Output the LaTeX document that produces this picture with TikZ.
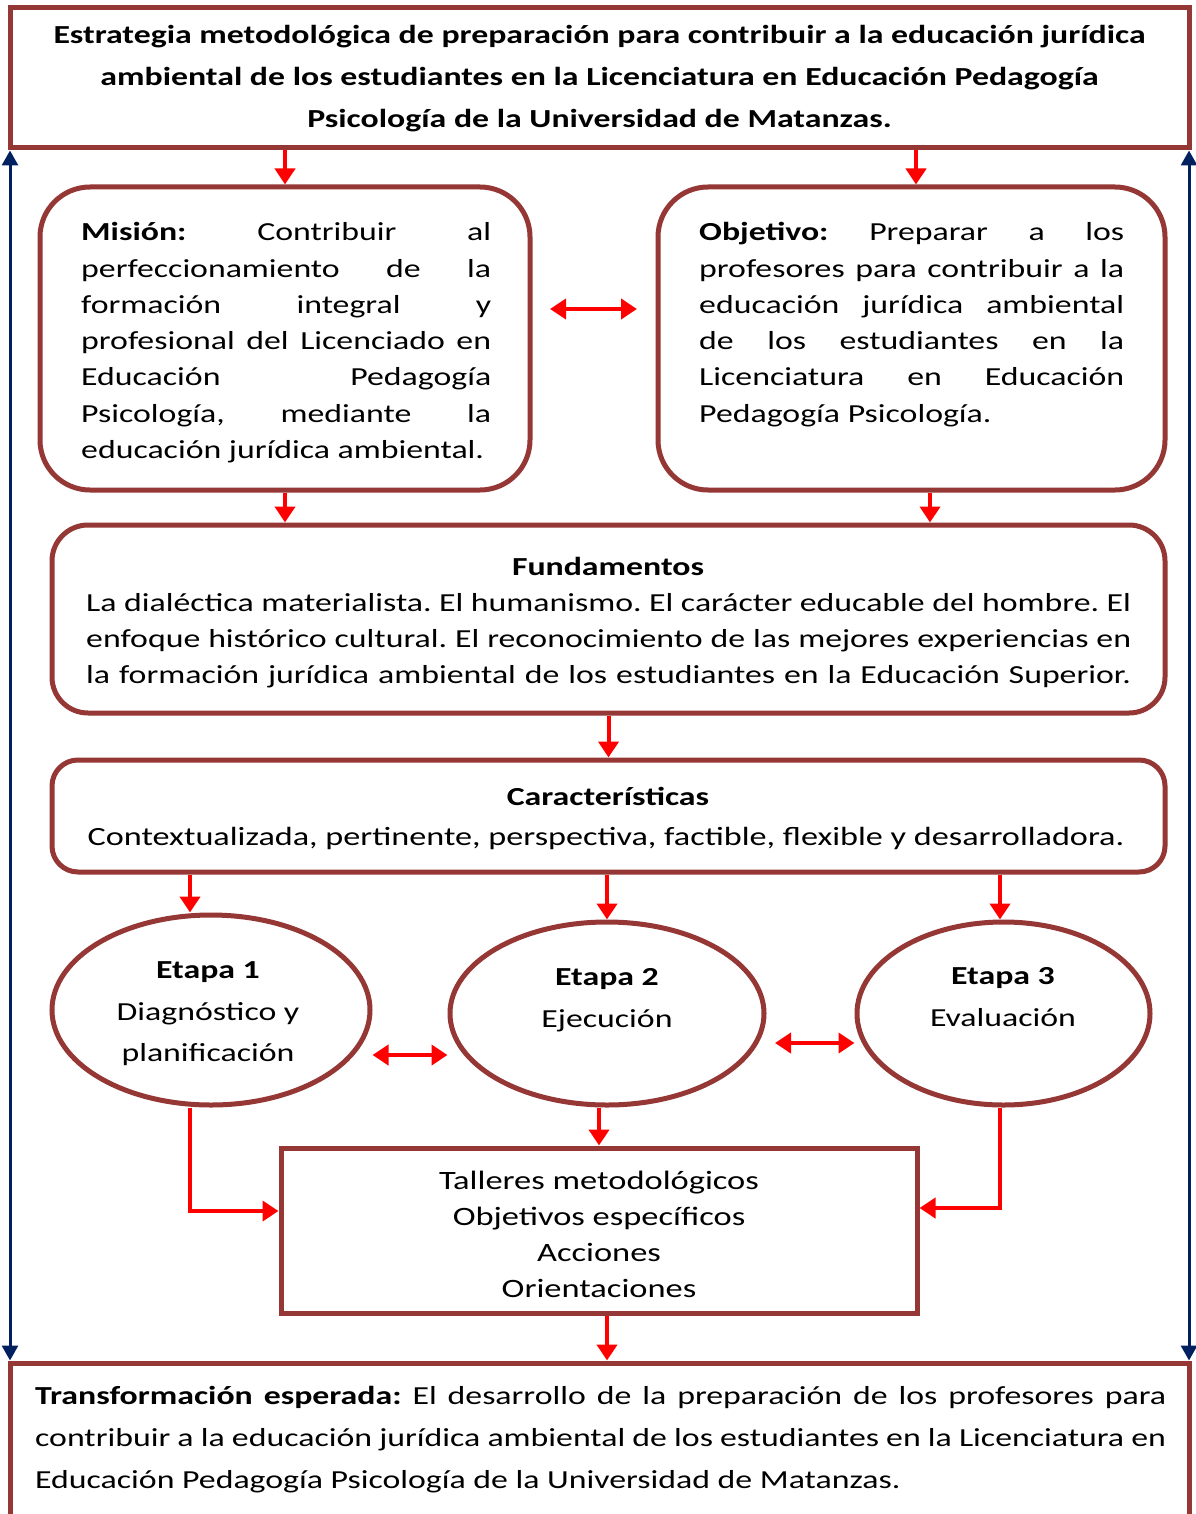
\documentclass[tikz,border=0pt]{standalone}
\usepackage{fontspec}
\setmainfont{Carlito}[FakeStretch=1.3]
\usetikzlibrary{arrows.meta,shapes.geometric}
\definecolor{boxred}{HTML}{953735}
\definecolor{arrred}{HTML}{FF0000}
\definecolor{navyb}{HTML}{002060}
\newcommand{\jl}[1]{\hbox to\linewidth{#1}}
\newcommand{\bodyfont}{\fontsize{26}{36.2}\selectfont}
\newcommand{\bigfont}{\fontsize{26}{42}\selectfont}
\begin{document}
\begin{tikzpicture}[x=1pt,y=-1pt,
  sqbox/.style={draw=boxred,line width=5pt,rectangle,inner sep=0pt},
  rbox/.style={draw=boxred,line width=5pt,rectangle,rounded corners=#1,inner sep=0pt},
  ebox/.style={draw=boxred,line width=5pt,ellipse,inner sep=0pt},
  rarrow/.style={draw=arrred,line width=4pt,-{Triangle[width=20pt,length=16pt]}},
  rdarrow/.style={draw=arrred,line width=4pt,{Triangle[width=20pt,length=16pt]}-{Triangle[width=20pt,length=16pt]}},
  barrow/.style={draw=navyb,line width=3pt,{Triangle[width=16pt,length=15pt]}-{Triangle[width=16pt,length=15pt]}},
  txt/.style={inner sep=0pt,anchor=base west},
  ctxt/.style={inner sep=0pt,align=center},
]
\path[use as bounding box,fill=white] (0,0) rectangle (1195,1514);

% boxes
\node[sqbox,minimum width=1179pt,minimum height=140pt] (top) at (599.5,78) {};
\node[rbox=50pt,minimum width=490pt,minimum height=303pt] (mis) at (285,338.5) {};
\node[rbox=50pt,minimum width=507pt,minimum height=303pt] (obj) at (911.5,338.5) {};
\node[rbox=36pt,minimum width=1113pt,minimum height=188pt] (fund) at (608.5,619) {};
\node[rbox=26pt,minimum width=1113pt,minimum height=112pt] (car) at (608.5,816) {};
\node[ebox,minimum width=318pt,minimum height=190pt] (e1) at (211,1010) {};
\node[ebox,minimum width=314pt,minimum height=183pt] (e2) at (607,1013.5) {};
\node[ebox,minimum width=293pt,minimum height=183pt] (e3) at (1003.5,1013.5) {};
\node[sqbox,minimum width=636pt,minimum height=165pt] (tal) at (599,1230.5) {};
\node[sqbox,minimum width=1179pt,minimum height=170pt] (bot) at (599.5,1448) {};

% texts
\node[ctxt,font=\bfseries\bigfont] (toptxt) at (599.5,79)
  {Estrategia metodológica de preparación para contribuir a la educación jurídica\\
   ambiental de los estudiantes en la Licenciatura en Educación Pedagogía\\
   Psicología de la Universidad de Matanzas.};

\node[txt] (mistxt) at (81,241) {\begin{minipage}[t]{410pt}\bodyfont\frenchspacing
\jl{\textbf{Misión:} Contribuir al}
\jl{perfeccionamiento de la}
\jl{formación integral y}
\jl{profesional del Licenciado en}
\jl{Educación Pedagogía}
\jl{Psicología, mediante la}
\hbox{educación jurídica ambiental.}
\end{minipage}};

\node[txt] (objtxt) at (699,241) {\begin{minipage}[t]{425pt}\bodyfont\frenchspacing
\jl{\textbf{Objetivo:} Preparar a los}
\jl{profesores para contribuir a la}
\jl{educación jurídica ambiental}
\jl{de los estudiantes en la}
\jl{Licenciatura en Educación}
\hbox{Pedagogía Psicología.}
\end{minipage}};

\node[ctxt,font=\bfseries\bodyfont] (fundtit) at (608,566) {Fundamentos};
\node[txt] (fundtxt) at (86,611) {\begin{minipage}[t]{1045pt}\bodyfont\frenchspacing
\jl{La dialéctica materialista. El humanismo. El carácter educable del hombre. El}
\jl{enfoque histórico cultural. El reconocimiento de las mejores experiencias en}
\jl{la formación jurídica ambiental de los estudiantes en la Educación Superior.}
\end{minipage}};

\node[ctxt,font=\bfseries\bodyfont] (cartit) at (608,796) {Características};
\node[ctxt,font=\fontsize{26.3}{36}\selectfont] (cartxt) at (606,838) {Contextualizada, pertinente, perspectiva, factible, flexible y desarrolladora.};

\node[ctxt,font=\fontsize{26}{41.5}\selectfont] (e1txt) at (208,1014)
  {\textbf{Etapa 1}\\Diagnóstico y\\planificación};
\node[ctxt,font=\fontsize{26}{42}\selectfont] (e2txt) at (607,1000)
  {\textbf{Etapa 2}\\Ejecución};
\node[ctxt,font=\fontsize{26}{42}\selectfont] (e3txt) at (1003,997)
  {\textbf{Etapa 3}\\Evaluación};

\node[ctxt,font=\fontsize{26.5}{36}\selectfont] (taltxt) at (599,1234)
  {Talleres metodológicos\\Objetivos específicos\\Acciones\\Orientaciones};

\node[txt] (bottxt) at (35,1404) {\begin{minipage}[t]{1131pt}\fontsize{26}{42}\selectfont\frenchspacing
\jl{\textbf{Transformación esperada:} El desarrollo de la preparación de los profesores para}
\jl{contribuir a la educación jurídica ambiental de los estudiantes en la Licenciatura en}
\hbox{Educación Pedagogía Psicología de la Universidad de Matanzas.}
\end{minipage}};

% blue arrows
\draw[barrow] ([xshift=2.5pt]top.south west) -- ([xshift=2.5pt]bot.north west);
\draw[barrow] ([xshift=-2.5pt]top.south east) -- ([xshift=-2.5pt]bot.north east);

% red arrows
\draw[rarrow] (top.south -| mis.north) -- (mis.north);
\coordinate (oa) at ([xshift=4.5pt]obj.north);
\draw[rarrow] (top.south -| oa) -- (oa);
\draw[rdarrow] ([shift={(17.5pt,29.5pt)}]mis.east) -- ([shift={(-18.5pt,29.5pt)}]obj.west);
\draw[rarrow] (mis.south) -- (mis.south |- fund.north);
\coordinate (ob) at ([xshift=18.5pt]obj.south);
\draw[rarrow] (ob) -- (ob |- fund.north);
\draw[rarrow] (fund.south) -- (car.north);
\coordinate (c1) at ([xshift=-21pt]e1.north);
\draw[rarrow] (c1 |- car.south) -- (c1);
\draw[rarrow] (e2.north |- car.south) -- (e2.north);
\coordinate (c3) at ([xshift=-3.5pt]e3.north);
\draw[rarrow] (c3 |- car.south) -- (c3);
\draw[rdarrow] ([yshift=-45pt]e1.east) -- ([yshift=-41.5pt]e2.west);
\draw[rdarrow] ([shift={(8.5pt,-29.5pt)}]e2.east) -- ([yshift=-29.5pt]e3.west);
\draw[rarrow] (tal.north |- e2.south) -- (tal.north);
\coordinate (d1) at ([xshift=-21pt]e1.south);
\draw[rarrow] (d1) |- ([yshift=19.5pt]tal.west);
\coordinate (d3) at ([xshift=-3.5pt]e3.south);
\draw[rarrow] (d3) |- ([yshift=22.5pt]tal.east);
\coordinate (t1) at ([xshift=8pt]tal.south);
\draw[rarrow] (t1) -- (t1 |- bot.north);
\end{tikzpicture}
\end{document}
